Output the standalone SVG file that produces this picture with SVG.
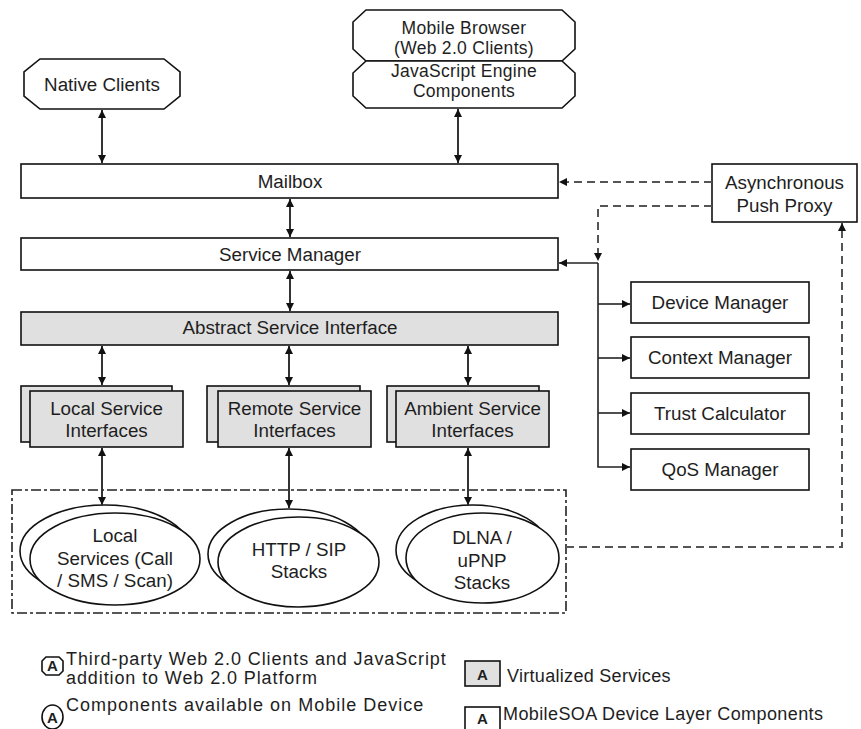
<svg xmlns="http://www.w3.org/2000/svg" width="861" height="729" viewBox="0 0 861 729">
  <style>
    .box { fill: #ffffff; stroke: #111; stroke-width: 1.6; }
    .gbox { fill: #e0e0e0; stroke: #111; stroke-width: 1.6; }
    .lbl { font-family: "Liberation Sans", Arial, Helvetica, sans-serif; font-size: 18.8px; fill: #1e1e1e; text-anchor: middle; }
    .tight { font-size: 17.5px; letter-spacing: 0.3px; }
    .leg { font-family: "Liberation Sans", Arial, Helvetica, sans-serif; fill: #1e1e1e; }
    .sym { font-family: "Liberation Sans", Arial, Helvetica, sans-serif; font-size: 15px; font-weight: bold; fill: #1e1e1e; text-anchor: middle; }
    .link { fill: none; stroke: #333; stroke-width: 2; }
    .thin { fill: none; stroke: #222; stroke-width: 1.6; }
    .dash { fill: none; stroke: #555; stroke-width: 2; stroke-dasharray: 8 5; }
    .group { fill: none; stroke: #222; stroke-width: 1.6; stroke-dasharray: 10 3 3 3; }
  </style>
  <defs>
    <marker id="ah" viewBox="0 0 10 10" refX="10" refY="5" markerWidth="4" markerHeight="4" orient="auto-start-reverse" markerUnits="strokeWidth">
      <path d="M0,0 L10,5 L0,10 z" fill="#111"/>
    </marker>
    <marker id="ahs" viewBox="0 0 10 10" refX="10" refY="5" markerWidth="5" markerHeight="5" orient="auto-start-reverse" markerUnits="strokeWidth">
      <path d="M0,0 L10,5 L0,10 z" fill="#111"/>
    </marker>
  </defs>

  <!-- clients -->
  <g id="native-clients">
    <polygon class="box" points="40,59 164,59 180,72 180,96 164,109 40,109 24,96 24,72"/>
    <text class="lbl" x="102" y="91">Native Clients</text>
  </g>
  <g id="mobile-browser">
    <polygon class="box" points="366,10 562,10 575,22 575,49 562,61 366,61 353,49 353,22"/>
    <text class="lbl tight" x="464" y="34">Mobile Browser</text>
    <text class="lbl tight" x="464" y="54">(Web 2.0 Clients)</text>
  </g>
  <g id="js-engine">
    <polygon class="box" points="366,61 562,61 575,73 575,96 562,108 366,108 353,96 353,73"/>
    <text class="lbl tight" x="464" y="77">JavaScript Engine</text>
    <text class="lbl tight" x="464" y="97">Components</text>
  </g>

  <!-- device layer -->
  <g id="mailbox">
    <rect class="box" x="21" y="164" width="537" height="34"/>
    <text class="lbl" x="290" y="188">Mailbox</text>
  </g>
  <g id="service-manager">
    <rect class="box" x="21" y="238" width="537" height="32"/>
    <text class="lbl" x="290" y="261">Service Manager</text>
  </g>
  <g id="abstract-service-interface">
    <rect class="gbox" x="21" y="312" width="537" height="33"/>
    <text class="lbl" x="290" y="334">Abstract Service Interface</text>
  </g>

  <g id="local-service-interfaces">
    <rect class="gbox" x="21" y="386" width="151" height="56"/>
    <rect class="gbox" x="30" y="391" width="153" height="56"/>
    <text class="lbl" x="106.5" y="415">Local Service</text>
    <text class="lbl" x="106.5" y="437">Interfaces</text>
  </g>
  <g id="remote-service-interfaces">
    <rect class="gbox" x="207" y="386" width="153" height="56"/>
    <rect class="gbox" x="218" y="391" width="153" height="56"/>
    <text class="lbl" x="294.5" y="415">Remote Service</text>
    <text class="lbl" x="294.5" y="437">Interfaces</text>
  </g>
  <g id="ambient-service-interfaces">
    <rect class="gbox" x="387" y="386" width="152" height="56"/>
    <rect class="gbox" x="396" y="391" width="153" height="56"/>
    <text class="lbl" x="472.5" y="415">Ambient Service</text>
    <text class="lbl" x="472.5" y="437">Interfaces</text>
  </g>

  <!-- platform services -->
  <g id="platform-group">
    <rect class="group" x="12" y="490" width="554" height="123"/>
  </g>
  <g id="local-services">
    <ellipse class="box" cx="105" cy="551" rx="85" ry="46"/>
    <ellipse class="box" cx="115" cy="559" rx="85" ry="46"/>
    <text class="lbl" x="115" y="542">Local</text>
    <text class="lbl" x="115" y="565">Services (Call</text>
    <text class="lbl" x="115" y="587">/ SMS / Scan)</text>
  </g>
  <g id="http-sip-stacks">
    <ellipse class="box" cx="288.5" cy="554" rx="80.5" ry="45"/>
    <ellipse class="box" cx="298.5" cy="562" rx="80.5" ry="45"/>
    <text class="lbl" x="299" y="556">HTTP / SIP</text>
    <text class="lbl" x="299" y="578">Stacks</text>
  </g>
  <g id="dlna-upnp-stacks">
    <ellipse class="box" cx="472.5" cy="550" rx="76.5" ry="45"/>
    <ellipse class="box" cx="482.5" cy="558" rx="76.5" ry="45"/>
    <text class="lbl" x="482" y="544">DLNA /</text>
    <text class="lbl" x="482" y="567">uPNP</text>
    <text class="lbl" x="482" y="589">Stacks</text>
  </g>

  <!-- side components -->
  <g id="push-proxy">
    <rect class="box" x="712" y="164" width="145" height="58"/>
    <text class="lbl" x="784.5" y="189">Asynchronous</text>
    <text class="lbl" x="784.5" y="212">Push Proxy</text>
  </g>
  <g id="device-manager">
    <rect class="box" x="631" y="282" width="178" height="41"/>
    <text class="lbl" x="720" y="309">Device Manager</text>
  </g>
  <g id="context-manager">
    <rect class="box" x="631" y="337" width="178" height="41"/>
    <text class="lbl" x="720" y="364">Context Manager</text>
  </g>
  <g id="trust-calculator">
    <rect class="box" x="631" y="393" width="178" height="41"/>
    <text class="lbl" x="720" y="420">Trust Calculator</text>
  </g>
  <g id="qos-manager">
    <rect class="box" x="631" y="449" width="178" height="41"/>
    <text class="lbl" x="720" y="476">QoS Manager</text>
  </g>

  <!-- connectors -->
  <g id="connectors">
    <line class="link" x1="102" y1="110" x2="102" y2="163" marker-start="url(#ah)" marker-end="url(#ah)"/>
    <line class="link" x1="458" y1="109" x2="458" y2="163" marker-start="url(#ah)" marker-end="url(#ah)"/>
    <line class="link" x1="290" y1="199" x2="290" y2="237" marker-start="url(#ah)" marker-end="url(#ah)"/>
    <line class="link" x1="290" y1="271" x2="290" y2="311" marker-start="url(#ah)" marker-end="url(#ah)"/>
    <line class="link" x1="102" y1="346" x2="102" y2="385" marker-start="url(#ah)" marker-end="url(#ah)"/>
    <line class="link" x1="289" y1="346" x2="289" y2="385" marker-start="url(#ah)" marker-end="url(#ah)"/>
    <line class="link" x1="468" y1="346" x2="468" y2="385" marker-start="url(#ah)" marker-end="url(#ah)"/>
    <line class="link" x1="102" y1="448" x2="102" y2="505" marker-start="url(#ah)" marker-end="url(#ah)"/>
    <line class="link" x1="289" y1="448" x2="289" y2="508" marker-start="url(#ah)" marker-end="url(#ah)"/>
    <line class="link" x1="468" y1="448" x2="468" y2="505" marker-start="url(#ah)" marker-end="url(#ah)"/>

    <!-- service manager to managers -->
    <line class="thin" x1="598" y1="263" x2="559" y2="263" marker-end="url(#ahs)"/>
    <polyline class="thin" points="598,263 598,467 630,467" marker-end="url(#ahs)"/>
    <line class="thin" x1="598" y1="304" x2="630" y2="304" marker-end="url(#ahs)"/>
    <line class="thin" x1="598" y1="358" x2="630" y2="358" marker-end="url(#ahs)"/>
    <line class="thin" x1="598" y1="413" x2="630" y2="413" marker-end="url(#ahs)"/>

    <!-- asynchronous push paths -->
    <line class="dash" x1="712" y1="182" x2="559" y2="182" marker-end="url(#ah)"/>
    <polyline class="dash" points="712,206 598,206 598,261" marker-end="url(#ah)"/>
    <polyline class="dash" points="566,547 842,547 842,223" marker-end="url(#ah)"/>
  </g>

  <!-- legend -->
  <g id="legend">
    <polygon class="box" points="46,657 59,657 63,661 63,671 59,675 46,675 42,671 42,661"/>
    <text class="sym" x="52.5" y="671">A</text>
    <text class="leg" x="66" y="665" font-size="18" letter-spacing="0.9">Third-party Web 2.0 Clients and JavaScript</text>
    <text class="leg" x="66" y="684" font-size="18" letter-spacing="0.9">addition to Web 2.0 Platform</text>

    <ellipse class="box" cx="52.5" cy="717" rx="10.5" ry="12"/>
    <text class="sym" x="52.5" y="723">A</text>
    <text class="leg" x="66" y="711" font-size="18" letter-spacing="1">Components available on Mobile Device</text>

    <rect class="gbox" x="465" y="661" width="35" height="25"/>
    <text class="sym" x="482.5" y="680">A</text>
    <text class="leg" x="507" y="682" font-size="18" letter-spacing="0.3">Virtualized Services</text>

    <rect class="box" x="465" y="707" width="35" height="25"/>
    <text class="sym" x="482.5" y="724">A</text>
    <text class="leg" x="503" y="720" font-size="18" letter-spacing="0.4">MobileSOA Device Layer Components</text>
  </g>
</svg>
